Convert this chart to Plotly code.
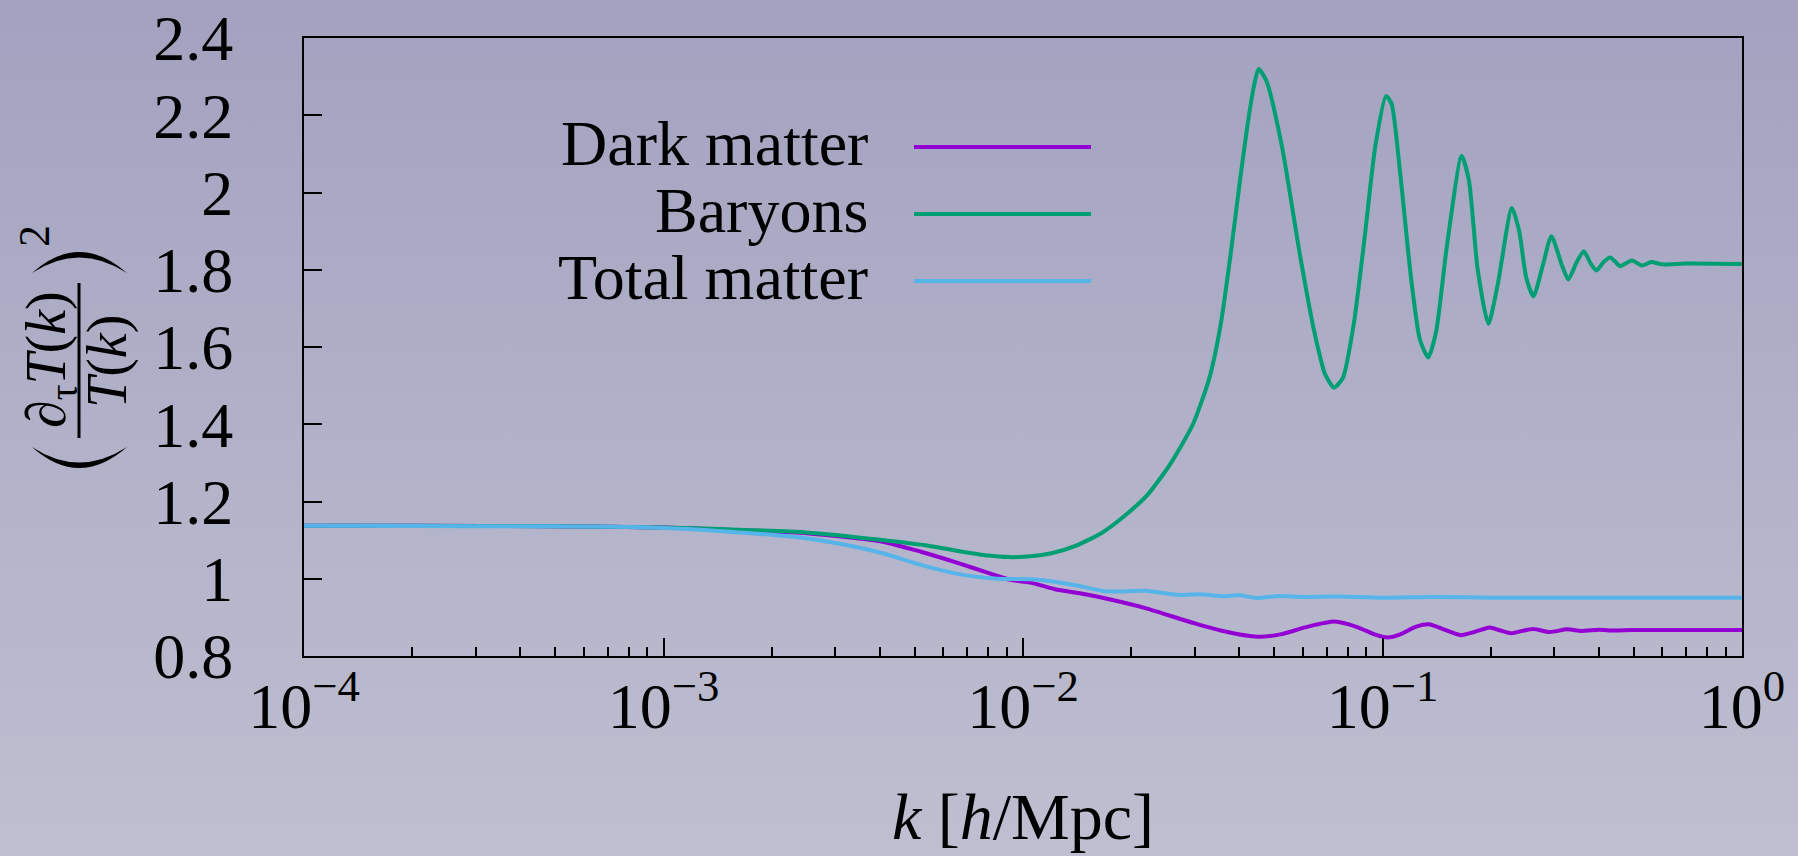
import base64
import plotly.graph_objects as go

# ---------------- data ----------------
k_dm = [1e-4, 2e-4, 5e-4, 1e-3, 1.5e-3, 2.5e-3, 4.07e-3, 5.2e-3, 6.64e-3, 8.0e-3,
        9.14e-3, 0.0105, 0.01227, 0.0145, 0.0164, 0.0219, 0.0299, 0.037, 0.0448,
        0.052, 0.062, 0.0735, 0.085, 0.095, 0.1035, 0.112, 0.124, 0.1346, 0.148,
        0.165, 0.18, 0.1987, 0.213, 0.2286, 0.245, 0.263, 0.292, 0.326, 0.358,
        0.40, 0.44, 0.5, 1.0]
v_dm = [1.137, 1.137, 1.136, 1.133, 1.127, 1.118, 1.096, 1.070, 1.040, 1.015,
        0.998, 0.990, 0.973, 0.962, 0.952, 0.924, 0.885, 0.862, 0.850,
        0.856, 0.876, 0.889, 0.875, 0.856, 0.848, 0.856, 0.876, 0.882, 0.869,
        0.854, 0.862, 0.874, 0.866, 0.859, 0.865, 0.870, 0.862, 0.869, 0.865,
        0.868, 0.866, 0.867, 0.867]

k_b = [1e-4, 2e-4, 5e-4, 1e-3, 1.5e-3, 2.5e-3, 4e-3, 5.5e-3, 6.6e-3, 8e-3,
       0.0091, 0.0105, 0.0120, 0.0140, 0.0165, 0.0190, 0.0221, 0.0256, 0.0297,
       0.0330, 0.0355, 0.0378, 0.0400, 0.0422, 0.0440, 0.0452, 0.0475, 0.0525,
       0.0589, 0.0646, 0.0692, 0.0733, 0.0776, 0.0832, 0.0891, 0.0955, 0.1023,
       0.106, 0.112, 0.120, 0.127, 0.134, 0.141, 0.151, 0.166, 0.174, 0.184,
       0.197, 0.209, 0.229, 0.240, 0.251, 0.263, 0.279, 0.295, 0.316, 0.329,
       0.347, 0.363, 0.380, 0.394, 0.412, 0.430, 0.447, 0.458, 0.494, 0.527,
       0.559, 0.60, 0.70, 1.0]
v_b = [1.137, 1.137, 1.136, 1.133, 1.128, 1.120, 1.101, 1.085, 1.072, 1.060,
       1.056, 1.058, 1.066, 1.085, 1.118, 1.160, 1.215, 1.295, 1.40,
       1.52, 1.66, 1.84, 2.02, 2.18, 2.28, 2.32, 2.29, 2.12,
       1.84, 1.64, 1.53, 1.495, 1.52, 1.66, 1.88, 2.12, 2.25,
       2.23, 2.05, 1.78, 1.62, 1.573, 1.64, 1.86, 2.095, 2.03, 1.80,
       1.66, 1.76, 1.96, 1.90, 1.78, 1.731, 1.81, 1.887, 1.81, 1.775,
       1.82, 1.848, 1.815, 1.798, 1.82, 1.832, 1.818, 1.809, 1.824, 1.811,
       1.82, 1.814, 1.816, 1.815]

k_tot = [1e-4, 5e-4, 9.35e-4, 1.53e-3, 2.49e-3, 3.2e-3, 4.07e-3, 5.2e-3, 6.64e-3,
         8.49e-3, 0.01086, 0.01387, 0.0171, 0.0219, 0.0272, 0.031, 0.036, 0.040,
         0.0448, 0.0506, 0.06, 0.075, 0.10, 0.14, 0.2, 1.0]
v_tot = [1.137, 1.136, 1.133, 1.122, 1.105, 1.088, 1.066, 1.036, 1.012,
         1.000, 0.998, 0.984, 0.967, 0.969, 0.958, 0.960, 0.955, 0.957,
         0.950, 0.955, 0.953, 0.954, 0.951, 0.953, 0.951, 0.951]

series_names = ["Dark matter", "Baryons", "Total matter"]
series_colors = ["#9400d3", "#009e73", "#56b4e9"]

x_tickvals = [1e-4, 1e-3, 1e-2, 1e-1, 1.0]
x_ticktext = ["10<sup>\u22124</sup>", "10<sup>\u22123</sup>", "10<sup>\u22122</sup>",
              "10<sup>\u22121</sup>", "10<sup>0</sup>"]
y_tickvals = [0.8, 1.0, 1.2, 1.4, 1.6, 1.8, 2.0, 2.2, 2.4]
y_ticktext = ["0.8", "1", "1.2", "1.4", "1.6", "1.8", "2", "2.2", "2.4"]
x_minor = [m * 10.0 ** e for e in range(-4, 0) for m in range(2, 10)]

# ---------------- figure ----------------
W, H = 1798, 856
L, R, T, B = 304, 56, 38, 200
PW, PH = W - L - R, H - T - B
FONT = "Liberation Serif, Times New Roman, serif"


def px(xp):
    return (xp - L) / PW


def py(yp):
    return (H - B - yp) / PH


def pt(xp, yp):
    return f"{px(xp):.5f},{py(yp):.5f}"


fig = go.Figure()
for kk, vv, col in zip([k_dm, k_b, k_tot], [v_dm, v_b, v_tot], series_colors):
    fig.add_trace(go.Scatter(x=kk, y=vv, mode="lines",
                             line=dict(color=col, width=4, shape="spline", smoothing=0.6),
                             showlegend=False, hoverinfo="skip"))

# background gradient
svg = ('<svg xmlns="http://www.w3.org/2000/svg" width="10" height="100" viewBox="0 0 10 100" '
       'preserveAspectRatio="none">'
       '<defs><linearGradient id="g" x1="0" y1="0" x2="0" y2="1">'
       '<stop offset="0" stop-color="#a2a2c0"/><stop offset="1" stop-color="#bfbfd1"/>'
       '</linearGradient></defs><rect x="0" y="0" width="10" height="100" fill="url(#g)"/></svg>')
src = "data:image/svg+xml;base64," + base64.b64encode(svg.encode()).decode()
fig.add_layout_image(dict(source=src, xref="paper", yref="paper",
                          x=px(-2), y=py(-2), sizex=(W + 4) / PW, sizey=(H + 4) / PH,
                          xanchor="left", yanchor="top", sizing="stretch",
                          layer="below"))

# custom legend (text left, line right)
leg_rows = [147, 214, 281]
for name, col, yr in zip(series_names, series_colors, leg_rows):
    fig.add_annotation(text=name, x=px(870), y=py(yr - 4), xref="paper", yref="paper",
                       xanchor="right", yanchor="middle", showarrow=False,
                       font=dict(family=FONT, size=64, color="black"))
    fig.add_shape(type="line", xref="paper", yref="paper",
                  x0=px(914), x1=px(1091), y0=py(yr), y1=py(yr),
                  line=dict(color=col, width=4))

# y-axis title built from pieces: ( d_tau T(k) / T(k) )^2
fig.add_annotation(text="\u2202<sub>\u03c4</sub><i>T</i>(<i>k</i>)", x=px(50), y=py(360),
                   xref="paper", yref="paper", textangle=-90, showarrow=False,
                   xanchor="center", yanchor="middle",
                   font=dict(family=FONT, size=56, color="black"))
fig.add_annotation(text="<i>T</i>(<i>k</i>)", x=px(107), y=py(362),
                   xref="paper", yref="paper", textangle=-90, showarrow=False,
                   xanchor="center", yanchor="middle",
                   font=dict(family=FONT, size=56, color="black"))
fig.add_shape(type="line", xref="paper", yref="paper", x0=px(79), x1=px(79),
              y0=py(283), y1=py(438), line=dict(color="black", width=3))
# big delimiters drawn as tapered arcs
fig.add_shape(type="path", xref="paper", yref="paper", line=dict(width=0),
              fillcolor="black",
              path=f"M {pt(32, 447)} Q {pt(79, 489)} {pt(127, 447)} Q {pt(79, 478)} {pt(32, 447)} Z")
fig.add_shape(type="path", xref="paper", yref="paper", line=dict(width=0),
              fillcolor="black",
              path=f"M {pt(32, 273)} Q {pt(79, 231)} {pt(127, 273)} Q {pt(79, 242)} {pt(32, 273)} Z")
fig.add_annotation(text="2", x=px(35), y=py(236), xref="paper", yref="paper",
                   textangle=-90, showarrow=False, xanchor="center", yanchor="middle",
                   font=dict(family=FONT, size=44, color="black"))

# x-axis title
fig.add_annotation(text="<i>k</i> [<i>h</i>/Mpc]", x=0.5, y=py(816), xref="paper", yref="paper",
                   xanchor="center", yanchor="middle", showarrow=False,
                   font=dict(family=FONT, size=66, color="black"))

fig.update_layout(
    width=W, height=H,
    margin=dict(l=L, r=R, t=T, b=B, pad=0, autoexpand=False),
    paper_bgcolor="#b0b0c8", plot_bgcolor="rgba(0,0,0,0)",
    font=dict(family=FONT, size=64, color="black"),
    xaxis=dict(type="log", range=[-4, 0], showgrid=False, zeroline=False, automargin=False,
               showline=True, linecolor="black", linewidth=2, mirror=True,
               ticks="inside", ticklen=18, tickwidth=1.5, tickcolor="black",
               tickvals=x_tickvals, ticktext=x_ticktext, ticklabelstandoff=-7,
               tickfont=dict(family=FONT, size=64, color="black"),
               minor=dict(ticks="inside", ticklen=9, tickwidth=1.5, tickcolor="black",
                          tickvals=x_minor, showgrid=False)),
    yaxis=dict(range=[0.8, 2.4], showgrid=False, zeroline=False, automargin=False,
               showline=True, linecolor="black", linewidth=2, mirror=True,
               ticks="inside", ticklen=18, tickwidth=1.5, tickcolor="black",
               tickvals=y_tickvals, ticktext=y_ticktext, ticklabelstandoff=56,
               tickfont=dict(family=FONT, size=64, color="black")),
)

fig.write_html("out.html", config={"displayModeBar": False},
               post_script="document.body.style.margin='0px';document.body.style.overflow='hidden';")
